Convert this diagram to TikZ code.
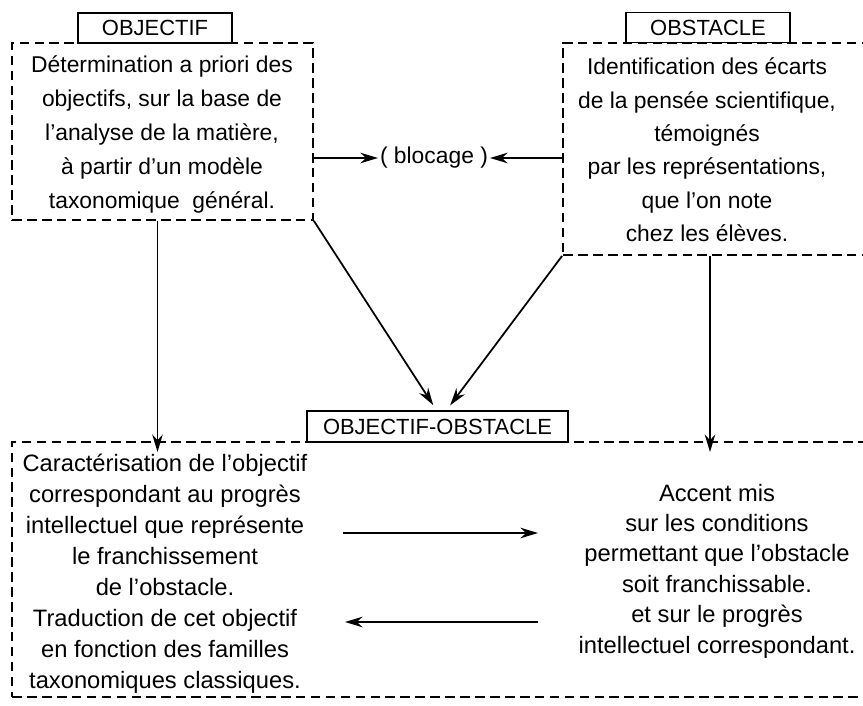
\documentclass[tikz,border=0pt]{standalone}
\usepackage{fontspec}
\setmainfont{Liberation Sans}
\usetikzlibrary{arrows.meta}

\begin{document}
\begin{tikzpicture}[x=0.02cm,y=-0.02cm,
  dbox/.style={draw,dash pattern=on 5.5pt off 3pt,line width=1.1pt,inner sep=0pt},
  lab/.style={draw,fill=white,line width=.9pt,minimum height=.6cm,inner sep=0pt,
    font=\fontsize{12.5}{15}\selectfont},
  txt/.style={align=center,inner sep=0pt},
  arr/.style={-{Stealth[length=10pt,width=6pt]},line width=1pt}]
% \draw [help lines] (0,0) grid (863,706) ;
\useasboundingbox (0,0) rectangle (863,706);
% the three dashed frames
\node[dbox,minimum width=6.02cm,minimum height=3.54cm] (objbox) at (162.5,131.5) {};
\node[dbox,minimum width=6.34cm,minimum height=4.24cm] (obsbox) at (721.5,149) {};
\node[dbox,minimum width=17.36cm,minimum height=5.1cm] (obox) at (446,569.5) {};
% titles
\node[lab,minimum width=3.08cm] (objlab) at (155,28) {OBJECTIF};
\node[lab,minimum width=3.28cm] (obslab) at (708,27.5) {OBSTACLE};
\node[lab,minimum width=5.22cm,minimum height=.62cm] (oolab) at (437.5,426.5) {OBJECTIF-OBSTACLE};
% texts
\node[txt,font=\fontsize{13}{19.3}\selectfont] (objtxt) at (162,134.5)
  {Détermination a priori des\\ objectifs, sur la base de\\ l’analyse de la matière,\\
   à partir d’un modèle\\ taxonomique \ général.};
\node[txt,font=\fontsize{13}{19}\selectfont] (obstxt) at (707,150)
  {Identification des écarts\\ de la pensée scientifique,\\ témoignés\\
   par les représentations,\\ que l’on note\\ chez les élèves.};
\node[txt,font=\fontsize{13.5}{17.6}\selectfont] (cara) at (165,573.5)
  {Caractérisation de l’objectif\\ correspondant au progrès\\ intellectuel que représente\\
   le franchissement\\ de l’obstacle.\\ Traduction de cet objectif\\
   en fonction des familles\\ taxonomiques classiques.};
\node[txt,font=\fontsize{13.5}{17.3}\selectfont] (accent) at (717,571)
  {Accent mis\\ sur les conditions\\ permettant que l’obstacle\\ soit franchissable.\\
   et sur le progrès\\ intellectuel correspondant.};
\node[inner sep=1pt,font=\fontsize{13}{15}\selectfont] (bloc) at (434,158) {( blocage )};
% arrows
\draw[arr] (objbox.east |- bloc) -- (bloc);
\draw[arr] (obsbox.west |- bloc) -- (bloc);
\draw[arr,shorten >=.12cm] (objbox.south east) -- ([xshift=-.02cm]oolab.north);
\draw[arr,shorten >=.12cm] (obsbox.south west) -- ([xshift=.18cm]oolab.north);
\coordinate (pl) at ([xshift=-.1cm]objbox.south);
\coordinate (pr) at ([xshift=-.23cm]obsbox.south);
\draw[arr,shorten >=-.22cm] (pl) -- (pl |- obox.north);
\draw[arr,shorten >=-.22cm] (pr) -- (pr |- obox.north);
\coordinate (ra) at (343,533);
\coordinate (rb) at (538,533);
\coordinate (la) at (538,622);
\coordinate (lb) at (345,622);
\draw[arr] (ra) -- (rb);
\draw[arr] (la) -- (lb);
\end{tikzpicture}
\end{document}
